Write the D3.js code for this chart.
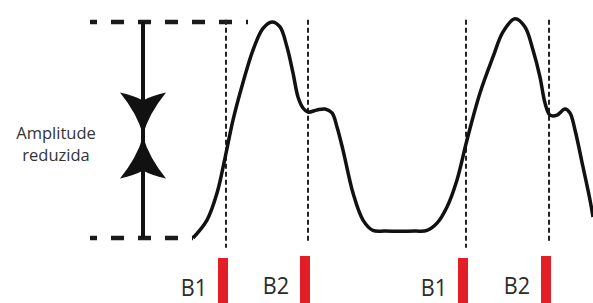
<!DOCTYPE html>
<html>
<head>
<meta charset="utf-8">
<style>
  html, body { margin: 0; padding: 0; background: #fff; }
  svg { display: block; }
</style>
</head>
<body>
<svg width="593" height="303"></svg>
<script src="https://d3js.org/d3.v7.min.js"></script>
<script>

// pulse waveform: time (arbitrary units) and normalised amplitude
var pulseT = [0, 14, 24, 32, 40, 50, 60, 70, 79, 87, 94, 100, 105, 110, 115, 124, 132, 139, 144, 150, 160, 170, 180, 192,
              222, 234, 244, 254, 264, 274, 287, 300, 310, 322, 332, 340, 347, 352, 357, 364, 372, 377, 382, 390, 397, 400];
var pulseA = [0, 0.083, 0.208, 0.37, 0.546, 0.72, 0.87, 0.97, 1.0, 0.977, 0.884, 0.764, 0.653, 0.602, 0.583, 0.593, 0.597, 0.579, 0.514, 0.407, 0.208, 0.083, 0.035, 0.032,
              0.032, 0.035, 0.069, 0.144, 0.269, 0.454, 0.671, 0.838, 0.954, 1.015, 0.977, 0.87, 0.745, 0.625, 0.569, 0.569, 0.597, 0.579, 0.5, 0.329, 0.176, 0.097];

// B1 / B2 markers
var markerT = [33, 115, 273, 356];
var markerLabels = ["B1", "B2", "B1", "B2"];

// reference levels (min / max amplitude) and how far they run
var refLevels = [0, 1];
var refFrom = -103;
var refTo = [0, 55];
var arrowT = -50;
var arrowMeet = 0.475;
var amplitudeLabel = ["Amplitude", "reduzida"];

var svg = d3.select("svg"),
    width = +svg.attr("width"),
    height = +svg.attr("height");

var x = d3.scaleLinear().domain([0, 400]).range([193, 593]);
var y = d3.scaleLinear().domain([0, 1]).range([238, 22]);

// dashed reference lines
svg.append("g")
    .attr("stroke", "#1a1a1a")
    .attr("stroke-width", 4.5)
    .attr("stroke-dasharray", "13,14")
  .selectAll("line")
  .data(refLevels)
  .enter().append("line")
    .attr("x1", x(refFrom))
    .attr("x2", function(d, i) { return x(refTo[i]); })
    .attr("y1", function(d) { return y(d); })
    .attr("y2", function(d) { return y(d); })
    .attr("stroke-dashoffset", 6);

// marker guide lines
svg.append("g")
    .attr("stroke", "#222")
    .attr("stroke-width", 2)
    .attr("stroke-dasharray", "5,3")
  .selectAll("line")
  .data(markerT)
  .enter().append("line")
    .attr("x1", function(d) { return x(d); })
    .attr("x2", function(d) { return x(d); })
    .attr("y1", y(1.01))
    .attr("y2", function(d, i) { return markerLabels[i] == "B1" ? y(-0.045) : y(-0.02); });

// red marker bars
svg.append("g")
    .attr("fill", "#e41e26")
  .selectAll("rect")
  .data(markerT)
  .enter().append("rect")
    .attr("x", function(d) { return x(d) - 8; })
    .attr("y", function(d, i) { return markerLabels[i] == "B1" ? 258 : 256; })
    .attr("width", 10)
    .attr("height", 50);

// marker labels
svg.append("g")
    .attr("fill", "#2b2b2b")
    .attr("font-family", "'Open Sans', sans-serif")
    .attr("font-size", 24)
    .attr("text-anchor", "end")
  .selectAll("text")
  .data(markerT)
  .enter().append("text")
    .attr("transform", function(d, i) {
      return "translate(" + (x(d) - 19) + "," + (markerLabels[i] == "B1" ? 296 : 294) + ") scale(0.9,1)";
    })
    .text(function(d, i) { return markerLabels[i]; });

// waveform
var line = d3.line()
    .x(function(d) { return x(d[0]); })
    .y(function(d) { return y(d[1]); })
    .curve(d3.curveCatmullRom.alpha(0.5));

svg.append("path")
    .datum(d3.zip(pulseT, pulseA))
    .attr("fill", "none")
    .attr("stroke", "#111")
    .attr("stroke-width", 3.5)
    .attr("stroke-linejoin", "round")
    .attr("d", line);

// amplitude arrows
var ax = x(arrowT), ym = y(arrowMeet);
svg.append("line")
    .attr("x1", ax).attr("x2", ax)
    .attr("y1", y(1)).attr("y2", y(0))
    .attr("stroke", "#111")
    .attr("stroke-width", 4);

function arrowHead(tip, dir) {
  var hw = 23, len = 42 * dir, notch = 34 * dir;
  return "M" + ax + "," + tip +
    "Q" + (ax - 6) + "," + (tip - len * 0.5) + " " + (ax - hw) + "," + (tip - len) +
    "Q" + (ax - 8) + "," + (tip - len * 0.92) + " " + ax + "," + (tip - notch) +
    "Q" + (ax + 8) + "," + (tip - len * 0.92) + " " + (ax + hw) + "," + (tip - len) +
    "Q" + (ax + 6) + "," + (tip - len * 0.5) + " " + ax + "," + tip + "Z";
}

svg.append("path").attr("d", arrowHead(ym - 1, 1)).attr("fill", "#111");
svg.append("path").attr("d", arrowHead(ym + 1, -1)).attr("fill", "#111");

svg.append("text")
    .attr("x", 56)
    .attr("y", 139)
    .attr("text-anchor", "middle")
    .attr("font-family", "'Open Sans', sans-serif")
    .attr("font-size", 16.5)
    .attr("fill", "#333")
  .selectAll("tspan")
  .data(amplitudeLabel)
  .enter().append("tspan")
    .attr("x", 56)
    .attr("dy", function(d, i) { return i ? 22 : 0; })
    .text(function(d) { return d; });

</script>
</body>
</html>
